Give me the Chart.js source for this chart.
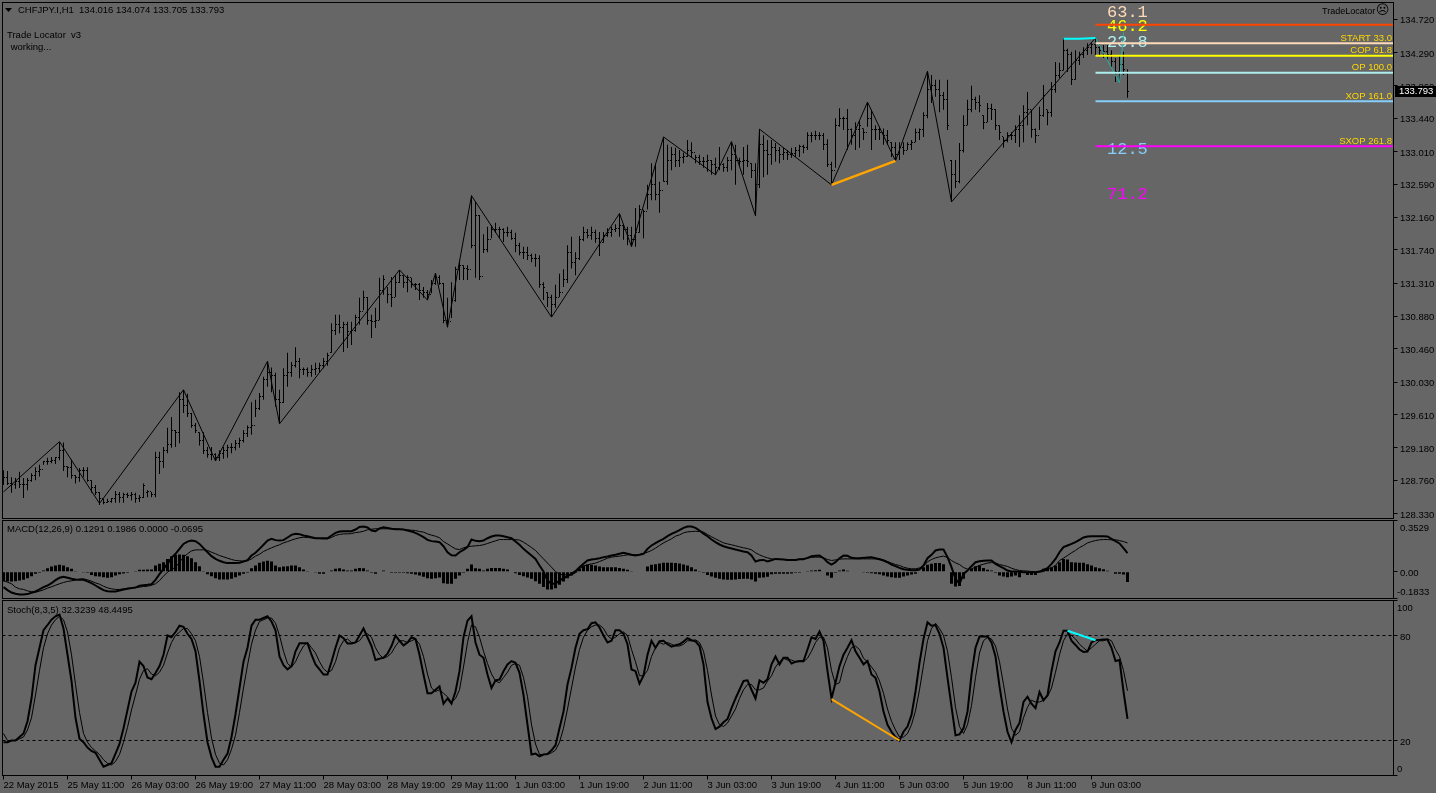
<!DOCTYPE html>
<html><head><meta charset="utf-8"><title>CHFJPY.I,H1</title>
<script src="https://cdn.jsdelivr.net/npm/chart.js@4"></script>
<style>html,body{margin:0;padding:0;background:#666666;overflow:hidden}canvas{position:absolute;left:0;display:block}</style>
</head><body>
<canvas id="cMain" width="1436" height="519" style="top:0"></canvas>
<canvas id="cMacd" width="1436" height="80" style="top:519px"></canvas>
<canvas id="cStoch" width="1436" height="194" style="top:599px"></canvas>
<script>
const highs=[128.89,128.88,128.80,128.79,128.87,128.79,128.79,128.85,128.93,128.96,129.01,129.05,129.06,129.06,129.25,129.25,128.94,129.03,128.83,128.92,128.93,128.93,128.76,128.70,128.61,128.52,128.52,128.53,128.62,128.61,128.60,128.60,128.61,128.60,128.57,128.72,128.63,128.61,129.13,129.13,129.19,129.44,129.58,129.41,129.90,129.93,129.88,129.63,129.50,129.38,129.38,129.19,129.19,129.11,129.15,129.19,129.22,129.24,129.28,129.31,129.41,129.47,129.77,129.80,129.89,130.10,130.29,130.22,130.15,129.93,130.21,130.41,130.29,130.48,130.34,130.22,130.22,130.25,130.28,130.28,130.34,130.41,130.79,130.90,130.90,130.81,130.81,130.81,130.90,131.12,131.21,131.13,130.90,130.99,131.38,131.41,131.26,131.39,131.41,131.48,131.41,131.41,131.38,131.31,131.31,131.26,131.22,131.35,131.44,131.41,131.31,131.12,131.32,131.52,131.61,131.54,131.54,132.44,132.36,132.19,131.94,132.04,132.06,132.09,132.04,132.02,132.04,132.00,131.96,131.83,131.78,131.78,131.69,131.69,131.67,131.32,131.19,131.16,131.29,131.43,131.49,131.80,131.91,131.71,131.92,132.04,132.01,132.04,132.00,131.97,131.97,132.02,132.04,132.07,132.20,132.06,132.04,132.04,132.28,132.32,132.26,132.58,132.86,132.86,132.62,133.20,133.10,133.07,133.06,133.03,133.00,133.16,133.13,132.97,132.97,132.94,132.97,132.90,132.93,133.07,132.86,132.94,133.13,133.10,132.93,133.07,133.10,132.86,132.86,133.30,133.22,133.16,133.16,133.12,133.07,133.06,133.03,133.06,133.07,133.10,133.10,133.26,133.26,133.28,133.26,133.25,133.17,132.88,133.44,133.57,133.46,133.56,133.31,133.39,133.42,133.31,133.65,133.55,133.35,133.33,133.31,133.29,133.13,133.13,133.13,133.13,133.13,133.16,133.31,133.31,133.52,134.05,134.00,133.94,133.94,133.78,133.94,132.90,132.90,133.12,133.48,133.68,133.86,133.72,133.74,133.48,133.64,133.63,133.56,133.35,133.20,133.26,133.26,133.35,133.48,133.61,133.78,133.55,133.31,133.59,133.87,133.55,133.91,134.17,134.16,134.48,134.34,134.30,134.32,134.30,134.36,134.41,134.41,134.48,134.40,134.39,134.39,134.32,134.22,134.26,134.30,134.074];
const lows=[128.70,128.70,128.60,128.65,128.66,128.53,128.63,128.74,128.76,128.81,128.96,128.96,128.98,128.97,129.02,128.88,128.80,128.78,128.72,128.74,128.80,128.74,128.60,128.57,128.44,128.45,128.47,128.47,128.47,128.47,128.47,128.53,128.50,128.47,128.48,128.53,128.54,128.54,128.54,128.84,128.92,129.11,129.18,129.19,129.24,129.63,129.58,129.44,129.37,129.21,129.10,129.05,129.02,129.01,129.01,129.04,129.05,129.11,129.15,129.18,129.25,129.32,129.35,129.58,129.67,129.80,129.97,129.90,129.71,129.50,129.76,129.97,130.10,130.22,130.08,130.12,130.10,130.10,130.12,130.16,130.21,130.24,130.41,130.64,130.66,130.42,130.47,130.51,130.68,130.77,130.96,130.77,130.60,130.73,130.83,131.16,131.05,131.00,131.13,131.31,131.25,131.19,131.25,131.22,131.09,131.12,131.09,131.18,131.29,131.29,130.79,130.74,130.86,131.07,131.35,131.35,131.35,131.76,131.38,131.35,131.70,131.71,131.89,131.96,131.89,131.84,131.91,131.87,131.71,131.67,131.62,131.61,131.58,131.52,131.25,131.09,131.00,130.87,130.99,131.13,131.26,131.31,131.50,131.41,131.61,131.85,131.89,131.87,131.83,131.66,131.83,131.91,131.91,131.97,131.91,131.87,131.80,131.78,131.78,131.96,131.89,132.26,132.38,132.38,132.22,132.62,132.58,132.77,132.81,132.81,132.86,132.94,132.93,132.86,132.84,132.80,132.75,132.71,132.71,132.77,132.75,132.75,132.77,132.58,132.81,132.71,132.81,132.67,132.18,132.54,132.68,132.71,132.84,132.88,132.86,132.90,132.90,132.93,132.94,132.94,132.99,133.03,133.13,133.16,133.16,133.03,132.81,132.58,132.80,133.33,133.29,133.03,133.10,133.03,133.06,133.16,133.33,133.03,133.16,133.16,133.10,133.10,132.94,132.89,132.90,132.97,133.03,133.03,133.13,133.16,133.20,133.44,133.64,133.72,133.52,133.55,133.29,132.36,132.54,132.60,133.00,133.35,133.52,133.55,133.52,133.30,133.39,133.42,133.29,133.16,133.06,133.13,133.16,133.12,133.07,133.13,133.35,133.19,133.12,133.29,133.46,133.35,133.46,133.77,133.96,134.06,134.04,133.87,133.94,134.13,134.22,134.26,134.27,134.26,134.26,134.22,134.19,134.10,133.91,133.90,134.00,133.705];
const closes=[128.79,128.72,128.70,128.74,128.70,128.70,128.76,128.82,128.87,128.90,129.00,129.00,129.02,129.05,129.15,128.94,128.92,128.82,128.79,128.89,128.89,128.76,128.67,128.60,128.52,128.47,128.49,128.52,128.57,128.54,128.57,128.56,128.58,128.52,128.54,128.69,128.61,128.57,129.05,129.00,129.15,129.22,129.41,129.38,129.80,129.73,129.63,129.47,129.40,129.28,129.15,129.09,129.09,129.05,129.11,129.15,129.18,129.19,129.24,129.28,129.37,129.44,129.47,129.69,129.84,130.06,130.16,130.12,129.80,129.77,130.12,130.15,130.25,130.29,130.19,130.19,130.16,130.19,130.21,130.24,130.29,130.37,130.70,130.77,130.73,130.77,130.68,130.70,130.86,130.94,131.12,130.83,130.81,130.83,131.22,131.35,131.16,131.12,131.32,131.41,131.32,131.38,131.29,131.29,131.22,131.19,131.16,131.31,131.38,131.31,130.83,130.81,131.09,131.48,131.54,131.50,131.48,131.80,132.19,131.39,131.74,131.87,132.00,132.00,132.00,131.97,131.97,131.89,131.80,131.70,131.70,131.67,131.63,131.63,131.29,131.25,131.12,131.03,131.12,131.19,131.35,131.70,131.58,131.63,131.87,131.97,131.93,131.97,131.89,131.83,131.93,131.97,132.00,132.02,132.06,132.00,131.93,131.87,131.97,132.26,132.23,132.45,132.58,132.45,132.51,132.62,132.90,132.97,132.90,132.93,132.95,133.03,133.00,132.93,132.88,132.88,132.90,132.84,132.80,132.84,132.80,132.90,132.97,132.90,132.88,132.90,132.88,132.77,132.58,133.10,133.03,132.97,133.06,133.03,132.97,133.00,132.97,132.99,133.03,133.07,133.06,133.22,133.22,133.22,133.22,133.10,132.84,132.77,133.35,133.44,133.44,133.29,133.22,133.29,133.35,133.26,133.44,133.29,133.29,133.26,133.22,133.16,133.06,132.97,133.06,133.03,133.10,133.13,133.26,133.29,133.48,133.81,133.87,133.81,133.74,133.68,133.35,132.71,132.62,133.03,133.35,133.55,133.68,133.65,133.61,133.39,133.57,133.55,133.35,133.26,133.16,133.22,133.22,133.29,133.35,133.52,133.55,133.29,133.22,133.48,133.74,133.51,133.81,134.00,134.06,134.32,134.26,133.94,134.19,134.26,134.32,134.35,134.39,134.35,134.32,134.30,134.26,134.17,134.04,134.13,134.07,133.793];
const opens=[128.82,128.79,128.72,128.70,128.74,128.70,128.70,128.76,128.82,128.87,128.90,129.00,129.00,129.02,129.05,129.15,128.94,128.92,128.82,128.79,128.89,128.89,128.76,128.67,128.60,128.52,128.47,128.49,128.52,128.57,128.54,128.57,128.56,128.58,128.52,128.54,128.60,128.61,128.57,129.05,129.00,129.15,129.22,129.41,129.38,129.80,129.73,129.63,129.47,129.38,129.28,129.15,129.09,129.09,129.05,129.11,129.15,129.18,129.19,129.24,129.28,129.37,129.44,129.47,129.69,129.84,130.06,130.16,130.12,129.80,129.77,130.12,130.15,130.25,130.29,130.19,130.19,130.16,130.19,130.21,130.24,130.29,130.41,130.70,130.77,130.73,130.77,130.68,130.70,130.86,130.94,131.12,130.83,130.81,130.83,131.22,131.26,131.16,131.12,131.32,131.41,131.32,131.38,131.29,131.29,131.22,131.19,131.16,131.31,131.38,131.31,130.83,130.81,131.09,131.48,131.54,131.50,131.48,131.80,132.19,131.39,131.74,131.87,132.00,132.00,132.00,131.97,131.97,131.89,131.80,131.70,131.70,131.67,131.63,131.63,131.29,131.19,131.12,131.03,131.12,131.19,131.35,131.70,131.58,131.63,131.87,131.97,131.93,131.97,131.89,131.83,131.93,131.97,132.00,132.02,132.06,132.00,131.93,131.87,131.97,132.26,132.23,132.45,132.58,132.45,132.51,132.62,132.90,132.97,132.90,132.93,132.95,133.03,133.00,132.93,132.88,132.88,132.90,132.84,132.80,132.84,132.80,132.90,132.97,132.90,132.88,132.90,132.86,132.77,132.58,133.10,133.03,132.97,133.06,133.03,132.97,133.00,132.97,132.99,133.03,133.07,133.06,133.22,133.22,133.22,133.22,133.10,132.84,132.77,133.35,133.44,133.44,133.29,133.22,133.29,133.31,133.26,133.44,133.29,133.29,133.26,133.22,133.13,133.06,132.97,133.06,133.03,133.10,133.13,133.26,133.29,133.48,133.81,133.87,133.81,133.74,133.68,132.90,132.71,132.62,133.03,133.35,133.55,133.68,133.65,133.48,133.39,133.57,133.55,133.35,133.20,133.16,133.22,133.22,133.29,133.35,133.52,133.55,133.29,133.22,133.48,133.55,133.51,133.81,134.00,134.06,134.32,134.26,133.94,134.19,134.26,134.32,134.35,134.39,134.35,134.32,134.30,134.26,134.17,134.04,134.13,134.016];
const zigzagIdx=[0,14,24,45,53,66,69,99,106,108,111,117,137,154,157,165,178,182,188,189,207,216,223,231,237,273];
const zigzagVal=[128.61,129.26,128.46,129.93,129.01,130.30,129.49,131.48,131.09,131.44,130.74,132.44,130.87,132.21,131.78,133.20,132.71,133.14,132.18,133.30,132.58,133.65,132.89,134.05,132.36,134.48];
const tealIdx=[273,279,280];const tealVal=[134.48,133.90,134.55];
const cyanIdx=[265,269,273];const cyanVal=[134.47,134.47,134.48];
const orangeIdx=[207,223];const orangeVal=[132.58,132.89];
const levelNames=['','START 33.0','COP 61.8','OP 100.0','XOP 161.0','SXOP 261.8'];
const levelPrices=[134.65,134.41,134.25,134.03,133.66,133.08];
const levelColors=['#FF4500','#FFDAB9','#FFFF00','#AFEEEE','#87CEFA','#FF00FF'];
const bigLabels=['63.1','46.2','23.8','12.5','71.2'];
const bigPrices=[134.815,134.634,134.42,133.04,132.46];
const bigColors=['#FFDAB9','#FFFF00','#AFEEEE','#87CEFA','#FF00FF'];
const priceTicks=[134.72,134.29,133.86,133.44,133.01,132.59,132.16,131.74,131.31,130.88,130.46,130.03,129.61,129.18,128.76,128.33];
const macdMain=[-.105,-.126,-.142,-.151,-.156,-.156,-.153,-.144,-.135,-.121,-.105,-.094,-.078,-.057,-.041,-.034,-.041,-.048,-.053,-.055,-.055,-.066,-.078,-.094,-.110,-.126,-.133,-.135,-.135,-.128,-.121,-.117,-.112,-.108,-.096,-.092,-.089,-.085,-.055,-.016,.021,.055,.096,.124,.158,.192,.208,.215,.211,.192,.163,.135,.108,.089,.076,.066,.060,.060,.060,.062,.071,.080,.112,.131,.158,.186,.215,.227,.218,.215,.218,.236,.254,.261,.259,.250,.245,.238,.231,.231,.231,.231,.250,.268,.277,.279,.279,.279,.291,.309,.312,.305,.284,.279,.298,.307,.302,.296,.293,.293,.291,.284,.277,.268,.254,.238,.220,.211,.208,.204,.176,.135,.114,.112,.135,.151,.170,.222,.213,.211,.215,.231,.243,.250,.250,.245,.238,.231,.208,.186,.158,.135,.112,.089,.044,.002,-.060,-.082,-.082,-.060,-.044,-.030,-.014,.005,.032,.055,.078,.085,.089,.094,.101,.105,.112,.117,.124,.131,.124,.117,.112,.117,.124,.158,.181,.197,.213,.227,.245,.261,.273,.286,.302,.312,.312,.302,.284,.263,.245,.222,.204,.188,.176,.167,.160,.153,.147,.140,.135,.112,.071,.080,.082,.071,.080,.089,.087,.085,.082,.082,.082,.087,.087,.096,.108,.110,.112,.094,.066,.050,.066,.094,.112,.110,.096,.094,.094,.096,.099,.101,.094,.087,.078,.066,.050,.039,.027,.018,.014,.011,.011,.016,.044,.094,.117,.147,.153,.153,.101,.032,-.048,-.082,-.014,.009,.039,.066,.073,.076,.078,.078,.055,.039,.025,.009,.002,.002,0,-.002,-.002,-.002,-.002,.002,.014,.025,.055,.089,.135,.170,.181,.192,.204,.220,.236,.243,.245,.245,.245,.245,.243,.227,.211,.195,.163,.1291];
const macdSignal=[-.060,-.071,-.082,-.105,-.117,-.121,-.131,-.137,-.140,-.133,-.124,-.112,-.103,-.092,-.082,-.073,-.066,-.062,-.057,-.050,-.048,-.055,-.064,-.076,-.085,-.099,-.110,-.117,-.121,-.121,-.117,-.112,-.110,-.108,-.105,-.101,-.099,-.092,-.082,-.060,-.030,-.002,.016,.032,.066,.101,.124,.144,.151,.151,.151,.147,.135,.124,.112,.103,.094,.085,.078,.076,.073,.076,.089,.108,.121,.140,.153,.165,.176,.186,.199,.208,.218,.227,.234,.238,.236,.234,.231,.229,.227,.227,.236,.250,.257,.261,.261,.263,.270,.273,.279,.289,.293,.296,.296,.296,.296,.296,.296,.293,.291,.289,.286,.284,.277,.273,.261,.252,.245,.234,.208,.192,.174,.158,.153,.165,.174,.176,.179,.181,.186,.195,.204,.213,.222,.222,.222,.222,.222,.218,.204,.186,.167,.147,.117,.089,.060,.032,.002,-.016,-.021,-.021,-.021,-.007,.021,.039,.048,.055,.060,.071,.082,.094,.101,.105,.108,.112,.117,.117,.117,.119,.126,.135,.147,.163,.181,.199,.213,.227,.245,.254,.268,.275,.277,.279,.277,.273,.257,.241,.227,.213,.199,.192,.186,.179,.172,.165,.160,.151,.131,.117,.105,.096,.089,.087,.085,.085,.082,.082,.082,.087,.089,.094,.099,.101,.101,.096,.085,.078,.082,.087,.089,.089,.089,.089,.089,.089,.089,.089,.089,.089,.082,.071,.060,.050,.044,.032,.025,.021,.021,.027,.039,.069,.085,.096,.103,.108,.099,.078,.062,.050,.030,.018,.021,.032,.044,.053,.060,.064,.062,.050,.044,.037,.025,.016,.009,.007,.005,.002,0,-.002,.002,.016,.027,.044,.078,.094,.112,.131,.147,.167,.181,.199,.208,.215,.220,.222,.222,.220,.220,.215,.208,.1986];
const macdHist=[-.066,-.066,-.066,-.064,-.060,-.055,-.044,-.030,-.014,-.007,.009,.025,.037,.044,.048,.044,.032,.021,.002,-.002,-.005,-.007,-.021,-.030,-.032,-.037,-.041,-.037,-.025,-.016,-.011,-.007,-.002,.002,.014,.014,.016,.016,.044,.055,.066,.089,.108,.117,.119,.117,.108,.094,.066,.039,.002,-.016,-.030,-.044,-.053,-.053,-.053,-.048,-.037,-.025,-.014,-.007,.025,.044,.062,.071,.076,.071,.044,.032,.037,.039,.044,.044,.032,.016,.005,-.002,-.005,-.014,-.014,-.002,.009,.021,.025,.016,.009,.009,.021,.027,.025,.009,-.007,-.014,-.002,.009,-.002,-.007,-.007,-.007,-.007,-.009,-.014,-.018,-.025,-.034,-.044,-.048,-.044,-.039,-.078,-.082,-.082,-.048,-.025,-.007,.021,.050,.025,.021,.009,.021,.027,.027,.027,.021,.016,-.002,-.009,-.021,-.030,-.039,-.048,-.064,-.082,-.105,-.121,-.121,-.112,-.089,-.066,-.044,-.025,-.007,.021,.044,.050,.048,.044,.037,.032,.032,.032,.032,.027,.021,.014,.005,-.002,-.002,-.002,.037,.048,.053,.057,.062,.062,.062,.060,.057,.050,.044,.032,.016,.002,-.007,-.021,-.032,-.041,-.048,-.053,-.055,-.055,-.053,-.050,-.048,-.048,-.053,-.066,-.041,-.039,-.034,-.016,-.014,-.014,-.014,-.014,-.011,-.007,-.007,-.002,.005,.009,.011,.014,-.002,-.025,-.041,-.007,.009,.016,.007,-.002,-.002,-.002,-.005,-.007,-.009,-.014,-.016,-.025,-.032,-.037,-.041,-.041,-.032,-.025,-.018,-.014,-.002,.032,.048,.055,.060,.060,.053,-.002,-.082,-.101,-.098,-.048,-.002,.021,.039,.044,.027,.014,.009,-.007,-.025,-.032,-.037,-.032,-.025,-.037,-.002,-.021,-.021,-.021,.002,.021,.025,.032,.044,.066,.089,.085,.066,.064,.062,.062,.053,.044,.032,.025,.018,.007,-.002,-.014,-.014,-.018,-.0695];
const stochMain=[19,19,20,20,22,24,31,44,63,73,83,86,89,91,92,84,69,54,33,21,19,16,14,13,9,5,6,7,12.5,18,27,37.5,48,53,65,62.5,56,55,58.6,62.5,69,80,79,82,85.6,85,81,78,71,54,35,19,10.5,5,5,9,12.5,22,35,50,65,73,85.6,89,89,90,91,88,83,68,63,60.6,62.5,71,75.6,75.6,75.6,69,63.5,60.6,57.7,57.7,65,73,80,78.5,75.4,75.4,76,80,84,79,74,66,66.7,67.3,69.6,74,80,77,74.4,76,79,78,69,57.7,47,47,49,51,41,44,41,48,59.6,79,88.5,91,76,69,67.3,57.7,50,54.4,54.8,59.6,63.5,65.4,64.4,58.7,46,29,12,12.5,11,12,12.3,14.4,17.3,27,36.5,52,61.5,73,81,83,83.6,87,87.5,84.6,80,76,77,83,83,81,75,60.6,59.6,52.5,57,69,77,73,76.7,77,75,73.6,74.4,75,76.5,78.5,77.3,76.7,74,63.5,42,32.7,26.5,27.9,30.4,32.3,38.5,44,49,54,54.4,49,44,54.4,53,55,63.5,68,63.5,67.3,67.3,64,65,65.4,65.4,72,79,78,82.3,77,59.6,44,53,62.5,69,73,77.3,71,67.3,63.5,65.4,57.7,55.8,48,36.5,29,25,22,20,25,28,34.6,48,64.4,78,87.5,85.6,86,81,73,55.8,39.4,23,23.5,27,36.5,57.7,73,79.4,79.4,79.4,76,68,51,36.5,25,19,26,30,42,45,41,38.5,47.7,43,46,59.6,71,76,82.7,82.7,77,74.6,72,70.6,70.8,76,77.3,77.5,77.7,77.7,73,65.4,66,48,32.32];
const stochSignal=[24,20,20,20,21,22,26,33,46,60,73,81,86,89,91,89,82,69,52,36,24,19,16,14,12,9,7,6,8,12,19,27.5,37.5,46,55,60,61,58,57,59,63,70,76,80,82,84,84,81,77,68,53,36,21.5,12,7,6,9,15,23,36,50,63,75,83,88,89,90,90,87,80,71,64,62,65,70,74,76,73,70,65,61,59,60,65,73,77,78,76,76,77,80,81,79,73,69,67,68,70,74,77,77,76,77,78,75,68,58,50,48,49,47,45,42,44,49,62,76,86,85,79,71,64,58,54,53,56,59,63,64,63,56,45,29,18,12,12,12,13,14.5,19,27,38,50,62,72,79,83,85,86,86,84,80,78,79,81,82,80,72,65,57,57,60,68,73,76,75,76,75,74,74,75,77,77,77.5,76,71,60,46,34,29,28,30,34,38,44,49,52,52,49,49,50,54,57,62,65,67,66,66,65,65,65,67,71,76,79,79,73,60,52,53,62,68,73,74,72,67,65,62,59,54,47,38,31,26,22,22,24,29,37,49,63,77,84,87,84,80,71,56,39,28,24,29,40,56,70,77,79,78,74,65,52,38,27,23,25,33,39,43,42,42,43,45,50,59,69,77,81,80,78,75,73,71,73,75,77,77,78,77,72,68,60,48.45];
const stochCyanIdx=[266,273];const stochCyanVal=[82.7,77.3];
const stochOrangeIdx=[207,224];const stochOrangeVal=[43.7,20];
const dateTickIdx=[0,16,32,48,64,80,96,112,128,144,160,176,192,208,224,240,256,272];
const dateLabels=['22 May 2015','25 May 11:00','26 May 03:00','26 May 19:00','27 May 11:00','28 May 03:00','28 May 19:00','29 May 11:00','1 Jun 03:00','1 Jun 19:00','2 Jun 11:00','3 Jun 03:00','3 Jun 19:00','4 Jun 11:00','5 Jun 03:00','5 Jun 19:00','8 Jun 11:00','9 Jun 03:00'];
const headerText='CHFJPY.I,H1  134.016 134.074 133.705 133.793';
const lastPrice=133.793;

const UI='"Liberation Sans"';
const pts=a=>a.map((y,x)=>({x,y}));
const xy=(xs,ys)=>xs.map((x,i)=>({x,y:ys[i]}));
const tickImg=(px)=>{const c=document.createElement('canvas');c.width=3;c.height=1;const g=c.getContext('2d');g.fillStyle='#000';g.fillRect(px,0,1,1);return c;};
const line=(data,color,w,extra)=>Object.assign({type:'line',data,borderColor:color,borderWidth:w,pointRadius:0,tension:0,fill:false},extra||{});
const noPad=s=>{s.paddingTop=0;s.paddingBottom=0;s.paddingLeft=0;s.paddingRight=0;};
const xHidden={type:'linear',min:-0.25,max:347.5,offset:false,display:false};
function yAxis(min,max,vals,cb){return {type:'linear',position:'right',min,max,
  afterFit(s){s.width=42.5;noPad(s);},
  afterBuildTicks(s){s.ticks=vals.map(v=>({value:v}));},
  border:{display:false},
  grid:{drawOnChartArea:false,drawTicks:true,tickLength:4,color:'#000',lineWidth:1},
  ticks:{autoSkip:false,padding:2.5,labelOffset:1.5,color:'#000',font:{family:UI,size:9.5},callback:cb}};}
function txt(ctx,s,x,y,font,color,align){ctx.save();ctx.font=font;ctx.fillStyle=color;ctx.textAlign=align||'left';ctx.textBaseline='middle';ctx.fillText(s,x,y);ctx.restore();}
const frame={id:'frame',beforeDraw(c){const g=c.ctx;g.save();g.fillStyle='#666666';g.fillRect(0,0,c.width,c.height);g.restore();},
  afterDraw(c){const a=c.chartArea,g=c.ctx;g.save();g.strokeStyle='#000';g.lineWidth=1;g.strokeRect(a.left,a.top,a.right-a.left,a.bottom-a.top);g.restore();}};
const base=(pad,x,y)=>({responsive:false,animation:false,events:[],layout:{padding:pad,autoPadding:false},plugins:{legend:{display:false},tooltip:{enabled:false}},scales:{x,y}});
const font=F=>F+'px '+UI;

const mainText={id:'mainText',
 beforeDatasetsDraw(c){const g=c.ctx,y=c.scales.y;
  bigLabels.forEach((s,i)=>txt(g,s,1107,y.getPixelForValue(bigPrices[i]),'17px "Liberation Mono"',bigColors[i]));},
 afterDatasetsDraw(c){const g=c.ctx,y=c.scales.y;
  levelNames.forEach((s,i)=>{if(s)txt(g,s,1392,y.getPixelForValue(levelPrices[i])-5,font(9.5),'#FFD700','right');});},
 afterDraw(c){const g=c.ctx,y=c.scales.y;
  g.save();g.fillStyle='#000';g.beginPath();g.moveTo(5,8);g.lineTo(12,8);g.lineTo(8.5,12);g.closePath();g.fill();g.restore();
  txt(g,headerText,18,10.5,font(9.5),'#000');
  txt(g,'Trade Locator  v3',7,35.5,font(9.5),'#000');
  txt(g,' working...',8,47.5,font(9.5),'#000');
  txt(g,'TradeLocator',1322,11.5,font(9),'#000');
  txt(g,'\u2639',1382.5,11,'13px "DejaVu Sans"','#000','center');
  const py=y.getPixelForValue(lastPrice);
  g.save();g.fillStyle='#000';g.fillRect(1395,Math.round(py)-5,41,11);g.restore();
  txt(g,lastPrice.toFixed(3),1399,py+.5,font(9.5),'#fff');}};

new Chart(document.getElementById('cMain'),{type:'line',plugins:[frame,mainText],
 data:{datasets:[
  {type:'bar',data:highs.map((h,i)=>({x:i,y:[lows[i],h]})),backgroundColor:'#000',barThickness:1,inflateAmount:0,grouped:false,order:5},
  {type:'line',data:pts(opens),showLine:false,pointStyle:tickImg(0),pointRadius:1,order:4},
  {type:'line',data:pts(closes),showLine:false,pointStyle:tickImg(2),pointRadius:1,order:4},
  line(xy(zigzagIdx,zigzagVal),'#000',1,{order:3}),
  line(xy(tealIdx,tealVal),'#20B2AA',1,{order:3}),
  line(xy(cyanIdx,cyanVal),'#00FFFF',2,{order:2}),
  line(xy(orangeIdx,orangeVal),'#FFA500',2.5,{order:2}),
  ...levelPrices.map((p,i)=>line([{x:273,y:p},{x:347.5,y:p}],levelColors[i],2,{order:1}))
 ]},
 options:base({top:2.5,bottom:.5,left:2.5,right:0},xHidden,yAxis(128.266,134.938,priceTicks,v=>v.toFixed(3)))});

const macdText={id:'macdText',afterDraw(c){const g=c.ctx,y=c.scales.y;
  txt(g,'MACD(12,26,9) 0.1291 0.1986 0.0000 -0.0695',7,10.5,font(9.5),'#000');
  txt(g,'0.3529',1400,y.getPixelForValue(.3529)+8,font(9.5),'#000');
  txt(g,'-0.1833',1397,y.getPixelForValue(-.1833)-6.5,font(9.5),'#000');}};
new Chart(document.getElementById('cMacd'),{type:'line',plugins:[frame,macdText],
 data:{datasets:[
  {type:'bar',data:pts(macdHist),backgroundColor:'#000',barThickness:3,inflateAmount:0,grouped:false,order:3},
  line(pts(macdSignal),'#000',1,{order:2}),
  line(pts(macdMain),'#000',2,{order:1})
 ]},
 options:base({top:1.5,bottom:.5,left:2.5,right:0},xHidden,yAxis(-.1833,.3529,[.3529,0,-.1833],v=>v===0?'0.00':''))});

const stochText={id:'stochText',afterDraw(c){const g=c.ctx,y=c.scales.y;
  txt(g,'Stoch(8,3,5) 32.3239 48.4495',7,11,font(9.5),'#000');
  txt(g,'100',1397,y.getPixelForValue(100)+8,font(9.5),'#000');
  txt(g,'0',1397,y.getPixelForValue(0)-6.5,font(9.5),'#000');}};
new Chart(document.getElementById('cStoch'),{type:'line',plugins:[frame,stochText],
 data:{datasets:[
  line([{x:-.25,y:80},{x:347.5,y:80}],'#000',1,{borderDash:[3,3],order:4}),
  line([{x:-.25,y:20},{x:347.5,y:20}],'#000',1,{borderDash:[3,3],order:4}),
  line(pts(stochSignal),'#000',1,{order:3}),
  line(pts(stochMain),'#000',2,{order:2}),
  line(xy(stochOrangeIdx,stochOrangeVal),'#FFA500',2,{order:1}),
  line(xy(stochCyanIdx,stochCyanVal),'#00FFFF',2,{order:1})
 ]},
 options:base({top:1.5,bottom:0,left:2.5,right:0},
  {type:'linear',min:-.25,max:347.5,offset:false,
   afterFit(s){s.height=17.5;noPad(s);},
   afterBuildTicks(s){s.ticks=dateTickIdx.map(v=>({value:v}));},
   border:{display:false},
   grid:{drawOnChartArea:false,drawTicks:true,tickLength:4,color:'#000',lineWidth:1},
   ticks:{autoSkip:false,maxRotation:0,minRotation:0,align:'start',padding:0,color:'#000',font:{family:UI,size:9.5},callback:v=>dateLabels[dateTickIdx.indexOf(v)]}},
  yAxis(0,100,[100,80,20,0],v=>(v===80||v===20)?String(v):''))});
</script>
</body></html>
